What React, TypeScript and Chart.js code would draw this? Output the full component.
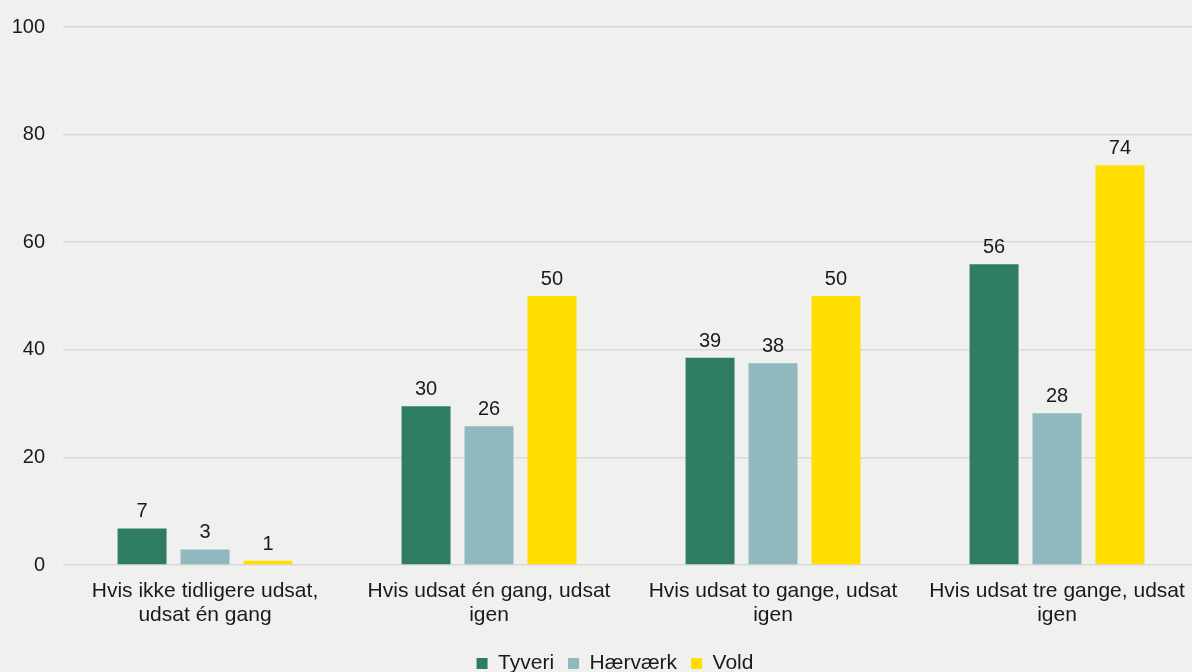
import React, { useEffect, useRef } from "react";
import { Chart, registerables } from "chart.js";

Chart.register(...registerables);

const categories: string[][] = [
  ["Hvis ikke tidligere udsat,", "udsat én gang"],
  ["Hvis udsat én gang, udsat", "igen"],
  ["Hvis udsat to gange, udsat", "igen"],
  ["Hvis udsat tre gange, udsat", "igen"],
];
const seriesNames = ["Tyveri", "Hærværk", "Vold"];
const tyveri = [6.8, 29.5, 38.5, 55.9];
const haervaerk = [2.9, 25.8, 37.5, 28.2];
const vold = [0.8, 50.0, 50.0, 74.3];
const yTicks = [0, 20, 40, 60, 80, 100];

const colors = ["#2e7d62", "#8fb8bf", "#ffde00"];
const FONT = "'Liberation Sans', Arial, sans-serif";
const BG = "#f0f0ef";

const dataLabelPlugin = {
  id: "dataLabels",
  afterDatasetsDraw(chart: any) {
    const ctx = chart.ctx;
    ctx.save();
    ctx.font = `20px ${FONT}`;
    ctx.fillStyle = "#1a1a1a";
    ctx.textAlign = "center";
    ctx.textBaseline = "alphabetic";
    chart.data.datasets.forEach((ds: any, i: number) => {
      const meta = chart.getDatasetMeta(i);
      meta.data.forEach((bar: any, j: number) => {
        const v = ds.data[j];
        ctx.fillText(String(Math.round(v)), bar.x, bar.y - 11);
      });
    });
    ctx.restore();
  },
};

const bgPlugin = {
  id: "bg",
  beforeDraw(chart: any) {
    const ctx = chart.ctx;
    ctx.save();
    ctx.fillStyle = BG;
    ctx.fillRect(0, 0, chart.width, chart.height);
    ctx.restore();
  },
};

// centre the legend under the plotting area rather than the canvas
const legendShiftPlugin = {
  id: "legendShift",
  afterLayout(chart: any) {
    const lg = chart.legend;
    if (!lg) return;
    const shift = 31;
    lg.left += shift;
    lg.right += shift;
  },
};

export default function App() {
  const ref = useRef<HTMLCanvasElement | null>(null);
  useEffect(() => {
    document.body.style.margin = "0";
    document.body.style.background = BG;
    document.body.style.overflow = "hidden";
    const values = [tyveri, haervaerk, vold];
    const chart = new Chart(ref.current as HTMLCanvasElement, {
      type: "bar",
      data: {
        labels: categories,
        datasets: seriesNames.map((name, i) => ({
          label: name,
          data: values[i],
          backgroundColor: colors[i],
          borderWidth: 0,
          categoryPercentage: 0.665,
          barPercentage: 0.778,
        })),
      },
      options: {
        animation: false,
        responsive: false,
        maintainAspectRatio: false,
        devicePixelRatio: 1,
        layout: { padding: { top: 27, left: 0, right: 62, bottom: 0 } },
        plugins: {
          tooltip: { enabled: false },
          legend: {
            position: "bottom",
            labels: {
              boxWidth: 11,
              boxHeight: 11,
              padding: 14,
              color: "#1a1a1a",
              font: { family: FONT, size: 21 },
            },
          },
        },
        scales: {
          x: {
            grid: { display: false },
            border: { display: false },
            ticks: {
              color: "#1a1a1a",
              font: { family: FONT, size: 21, lineHeight: 1.15 },
              padding: 6,
              maxRotation: 0,
              autoSkip: false,
            },
            afterFit(scale: any) {
              scale.height = 74;
            },
          },
          y: {
            min: 0,
            max: 100,
            border: { display: false },
            grid: { color: "#d9d9d9", lineWidth: 1.5, drawTicks: false },
            afterBuildTicks(scale: any) {
              scale.ticks = yTicks.map((v) => ({ value: v }));
            },
            ticks: {
              color: "#1a1a1a",
              font: { family: FONT, size: 20 },
              padding: 18,
            },
            afterFit(scale: any) {
              scale.width = 94;
              scale.paddingTop = 0;
              scale.paddingBottom = 0;
            },
          },
        },
      },
      plugins: [bgPlugin, legendShiftPlugin, dataLabelPlugin],
    });
    return () => chart.destroy();
  }, []);
  return (
    <div style={{ position: "absolute", left: 0, top: 0, width: 1192, height: 672, overflow: "hidden", background: BG }}>
      <canvas
        ref={ref}
        width={1292}
        height={684}
        style={{ display: "block", position: "absolute", left: -31, top: 0 }}
      />
    </div>
  );
}
